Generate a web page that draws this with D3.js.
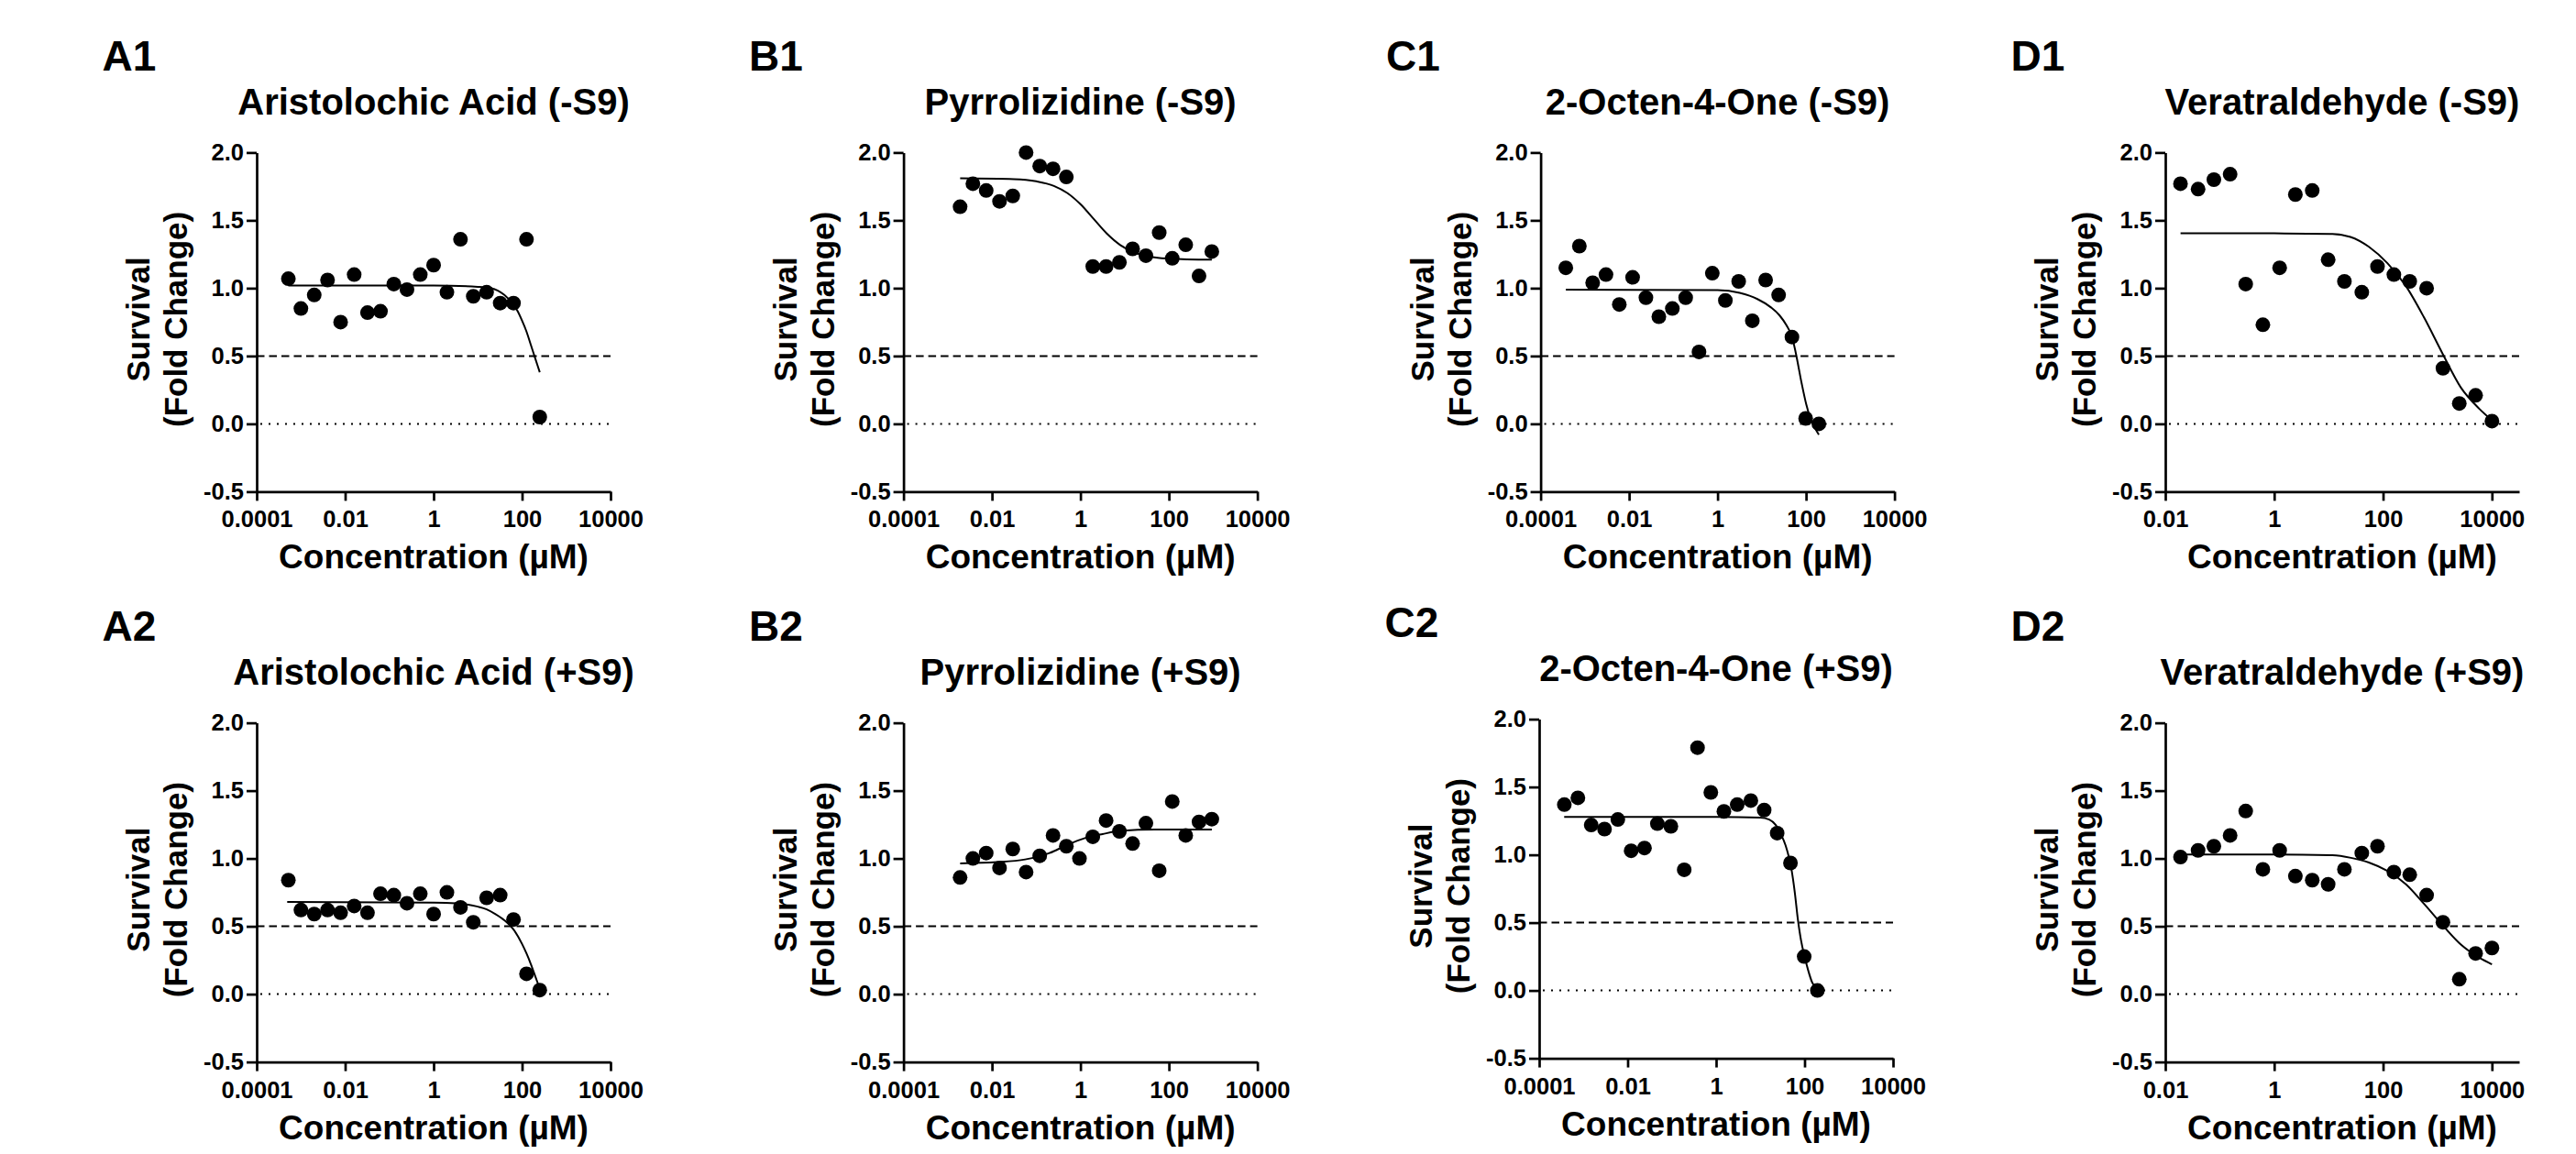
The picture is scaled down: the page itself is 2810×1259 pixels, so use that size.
<!DOCTYPE html>
<html>
<head>
<meta charset="utf-8">
<title>Survival (Fold Change) vs Concentration</title>
<style>
  html, body { margin: 0; padding: 0; background: #fff; }
  #svg { display: block; font-family: "Liberation Sans", Arial, sans-serif; font-weight: bold; }
</style>
</head>
<body>
<svg id="svg" width="2810" height="1259"></svg>
<script src="https://cdn.jsdelivr.net/npm/d3@7"></script>
<script>
// concentrations (µM) of the dilution series
const aristolochicConc = [0.00052, 0.001, 0.002, 0.004, 0.0079, 0.016, 0.032, 0.063, 0.126, 0.25, 0.5, 1.0, 2.0, 4.05, 7.9, 15.8, 32, 64, 126, 251]
const pyrrolizidineConc = [0.0019, 0.0037, 0.0074, 0.0148, 0.0295, 0.059, 0.12, 0.24, 0.48, 0.95, 1.9, 3.8, 7.6, 15.1, 30.2, 60.3, 119, 240, 479, 933]
const octenoneConc = [0.00037, 0.00075, 0.0015, 0.003, 0.006, 0.012, 0.024, 0.047, 0.095, 0.19, 0.38, 0.76, 1.5, 3.0, 6.1, 12.2, 24, 48, 98, 195]
const veratraldehydeConc = [0.019, 0.04, 0.078, 0.155, 0.30, 0.62, 1.26, 2.45, 5.0, 9.8, 19.5, 40.7, 79, 158, 309, 631, 1259, 2512, 5012, 10000]

// survival (fold change) per panel
const a1Survival = [1.07, 0.85, 0.95, 1.06, 0.75, 1.10, 0.82, 0.83, 1.03, 0.99, 1.10, 1.17, 0.97, 1.36, 0.94, 0.97, 0.89, 0.89, 1.36, 0.05]
const b1Survival = [1.60, 1.77, 1.72, 1.64, 1.68, 2.00, 1.90, 1.88, 1.82, null, 1.16, 1.16, 1.19, 1.29, 1.24, 1.41, 1.22, 1.32, 1.09, 1.27]
const c1Survival = [1.15, 1.31, 1.04, 1.10, 0.88, 1.08, 0.93, 0.79, 0.85, 0.93, 0.53, 1.11, 0.91, 1.05, 0.76, 1.06, 0.95, 0.64, 0.04, 0.00]
const d1Survival = [1.77, 1.73, 1.80, 1.84, 1.03, 0.73, 1.15, 1.69, 1.72, 1.21, 1.05, 0.97, 1.16, 1.10, 1.05, 1.00, 0.41, 0.15, 0.21, 0.02]
const a2Survival = [0.84, 0.62, 0.59, 0.62, 0.60, 0.65, 0.60, 0.74, 0.73, 0.67, 0.74, 0.59, 0.75, 0.64, 0.53, 0.71, 0.73, 0.55, 0.15, 0.03]
const b2Survival = [0.86, 1.00, 1.04, 0.93, 1.07, 0.90, 1.02, 1.17, 1.09, 1.00, 1.16, 1.28, 1.20, 1.11, 1.26, 0.91, 1.42, 1.17, 1.27, 1.29]
const c2Survival = [1.37, 1.42, 1.22, 1.19, 1.26, 1.03, 1.05, 1.23, 1.21, 0.89, 1.79, 1.46, 1.32, 1.37, 1.40, 1.33, 1.16, 0.94, 0.25, 0.00]
const d2Survival = [1.01, 1.06, 1.09, 1.17, 1.35, 0.92, 1.06, 0.87, 0.84, 0.81, 0.92, 1.04, 1.09, 0.90, 0.88, 0.73, 0.53, 0.11, 0.30, 0.34]

// fitted curves, points (log10 concentration, survival)
const a1FitLog = [-3.285, 0, 1.0, 1.3, 1.6, 1.8, 1.9, 2.0, 2.1, 2.2, 2.3, 2.4]
const a1FitY = [1.02, 1.02, 1.01, 1.0, 0.95, 0.88, 0.83, 0.76, 0.68, 0.58, 0.48, 0.38]
const b1FitLog = [-2.72, -1.5, -1.0, -0.6, -0.3, 0, 0.3, 0.6, 0.9, 1.2, 1.6, 2.0, 2.97]
const b1FitY = [1.81, 1.804, 1.788, 1.754, 1.702, 1.619, 1.51, 1.401, 1.318, 1.266, 1.231, 1.218, 1.21]
const c1FitLog = [-3.43, 0, 0.5, 0.9, 1.2, 1.4, 1.55, 1.685, 1.77, 1.9, 2.0, 2.1, 2.2, 2.29]
const c1FitY = [0.99, 0.985, 0.965, 0.92, 0.86, 0.80, 0.73, 0.64, 0.52, 0.30, 0.15, 0.04, -0.03, -0.08]
const d1FitLog = [-1.72, 0, 1.07, 1.40, 1.74, 2.08, 2.42, 2.75, 3.09, 3.43, 3.77, 4.0]
const d1FitY = [1.404, 1.404, 1.40, 1.378, 1.305, 1.184, 1.015, 0.786, 0.52, 0.267, 0.11, 0.026]
const a2FitLog = [-3.31, 0, 0.5, 1.0, 1.2, 1.4, 1.6, 1.8, 2.0, 2.1, 2.2, 2.3, 2.4]
const a2FitY = [0.68, 0.675, 0.67, 0.645, 0.625, 0.59, 0.545, 0.48, 0.37, 0.30, 0.22, 0.13, 0.04]
const b2FitLog = [-2.72, -1.89, -1.25, -0.70, -0.30, 0.10, 0.50, 0.90, 1.69, 2.97]
const b2FitY = [0.964, 0.973, 0.993, 1.04, 1.10, 1.15, 1.18, 1.203, 1.213, 1.213]
const c2FitLog = [-3.435, 0, 1.0, 1.2, 1.35, 1.47, 1.57, 1.64, 1.70, 1.78, 1.85, 1.92, 2.0, 2.08, 2.17, 2.30]
const c2FitY = [1.28, 1.28, 1.275, 1.26, 1.22, 1.15, 1.07, 0.99, 0.90, 0.72, 0.52, 0.37, 0.25, 0.15, 0.06, 0.0]
const d2FitLog = [-1.72, 0, 1.07, 1.41, 1.74, 2.08, 2.42, 2.75, 3.09, 3.43, 3.77, 4.0]
const d2FitY = [1.03, 1.03, 1.024, 1.005, 0.97, 0.908, 0.81, 0.667, 0.51, 0.365, 0.268, 0.22]

// axis ticks
const yTicks = [-0.5, 0, 0.5, 1.0, 1.5, 2.0]
const wideTicks = [0.0001, 0.01, 1, 100, 10000]
const narrowTicks = [0.01, 1, 100, 10000]

const panels = [
  { letter: 'A1', title: 'Aristolochic Acid (-S9)', conc: aristolochicConc, surv: a1Survival, fitLog: a1FitLog, fitY: a1FitY, x: 280, y: 166.4 },
  { letter: 'B1', title: 'Pyrrolizidine (-S9)', conc: pyrrolizidineConc, surv: b1Survival, fitLog: b1FitLog, fitY: b1FitY, x: 985.6, y: 166.4 },
  { letter: 'C1', title: '2-Octen-4-One (-S9)', conc: octenoneConc, surv: c1Survival, fitLog: c1FitLog, fitY: c1FitY, x: 1680.6, y: 166.4 },
  { letter: 'D1', title: 'Veratraldehyde (-S9)', conc: veratraldehydeConc, surv: d1Survival, fitLog: d1FitLog, fitY: d1FitY, x: 2362, y: 166.4, narrow: true },
  { letter: 'A2', title: 'Aristolochic Acid (+S9)', conc: aristolochicConc, surv: a2Survival, fitLog: a2FitLog, fitY: a2FitY, x: 280, y: 788.6 },
  { letter: 'B2', title: 'Pyrrolizidine (+S9)', conc: pyrrolizidineConc, surv: b2Survival, fitLog: b2FitLog, fitY: b2FitY, x: 985.6, y: 788.6 },
  { letter: 'C2', title: '2-Octen-4-One (+S9)', conc: octenoneConc, surv: c2Survival, fitLog: c2FitLog, fitY: c2FitY, x: 1679, y: 784.6 },
  { letter: 'D2', title: 'Veratraldehyde (+S9)', conc: veratraldehydeConc, surv: d2Survival, fitLog: d2FitLog, fitY: d2FitY, x: 2362, y: 788.6, narrow: true }
]

const plotW = 386
const plotH = 370
const svg = d3.select('#svg')
svg.append('rect').attr('width', 2810).attr('height', 1259).attr('fill', '#fff')

function drawPanel(p) {
  const g = svg.append('g').attr('transform', `translate(${p.x},${p.y})`)

  const xScale = d3.scaleLog()
    .domain(p.narrow ? [0.01, Math.pow(10, 4.5)] : [0.0001, 10000])
    .range([0, plotW])
  const yScale = d3.scaleLinear()
    .domain([-0.5, 2])
    .range([plotH, 0])

  // threshold lines
  g.append('line')
    .attr('x1', 0).attr('x2', plotW)
    .attr('y1', yScale(0.5)).attr('y2', yScale(0.5))
    .attr('stroke', '#000').attr('stroke-width', 2)
    .attr('stroke-dasharray', '8.5,5')
  g.append('line')
    .attr('x1', 4).attr('x2', plotW)
    .attr('y1', yScale(0)).attr('y2', yScale(0))
    .attr('stroke', '#000').attr('stroke-width', 2)
    .attr('stroke-dasharray', '2,7')

  // fitted curve
  const fit = p.fitLog.map((v, i) => [Math.pow(10, v), p.fitY[i]])
  const linegen = d3.line()
    .x(d => xScale(d[0]))
    .y(d => yScale(d[1]))
    .curve(d3.curveMonotoneX)
  g.append('path')
    .attr('d', linegen(fit))
    .attr('fill', 'none')
    .attr('stroke', '#000')
    .attr('stroke-width', 2)

  // points
  const pts = p.conc.map((c, i) => ({ c: c, s: p.surv[i] })).filter(d => d.s !== null)
  g.selectAll('circle')
    .data(pts)
    .join('circle')
    .attr('cx', d => xScale(d.c))
    .attr('cy', d => yScale(d.s))
    .attr('r', 8)
    .attr('fill', '#000')

  // axes
  const bottomAxis = d3.axisBottom(xScale)
    .tickValues(p.narrow ? narrowTicks : wideTicks)
    .tickFormat(d => String(d))
    .tickSize(10).tickSizeOuter(0).tickPadding(11)
  const leftAxis = d3.axisLeft(yScale)
    .tickValues(yTicks)
    .tickFormat(d => d.toFixed(1))
    .tickSize(11).tickSizeOuter(0).tickPadding(3)

  const xa = g.append('g').attr('transform', `translate(0,${plotH})`).call(bottomAxis)
  const ya = g.append('g').call(leftAxis)
  ;[xa, ya].forEach(a => {
    a.attr('font-size', null).attr('font-family', null)
    a.selectAll('path, line').attr('stroke', '#000').attr('stroke-width', 2.7)
    a.selectAll('text').attr('fill', '#000').style('font-size', '25.5px')
  })

  // titles
  g.append('text')
    .attr('x', plotW / 2).attr('y', -41.5)
    .attr('text-anchor', 'middle')
    .style('font-size', '40px')
    .text(p.title)

  g.append('text')
    .attr('x', -168.5).attr('y', -89.4)
    .style('font-size', '46px')
    .text(p.letter)

  g.append('text')
    .attr('x', plotW / 2).attr('y', plotH + 84)
    .attr('text-anchor', 'middle')
    .style('font-size', '37px')
    .text('Concentration (µM)')

  const yt = g.append('text')
    .attr('transform', `translate(-117,${plotH / 2 - 3}) rotate(-90)`)
    .attr('text-anchor', 'middle')
    .style('font-size', '35px')
  yt.append('tspan').attr('x', 0).attr('y', 0).text('Survival')
  yt.append('tspan').attr('x', 0).attr('y', 41).text('(Fold Change)')
}

panels.forEach(drawPanel)
</script>
</body>
</html>
